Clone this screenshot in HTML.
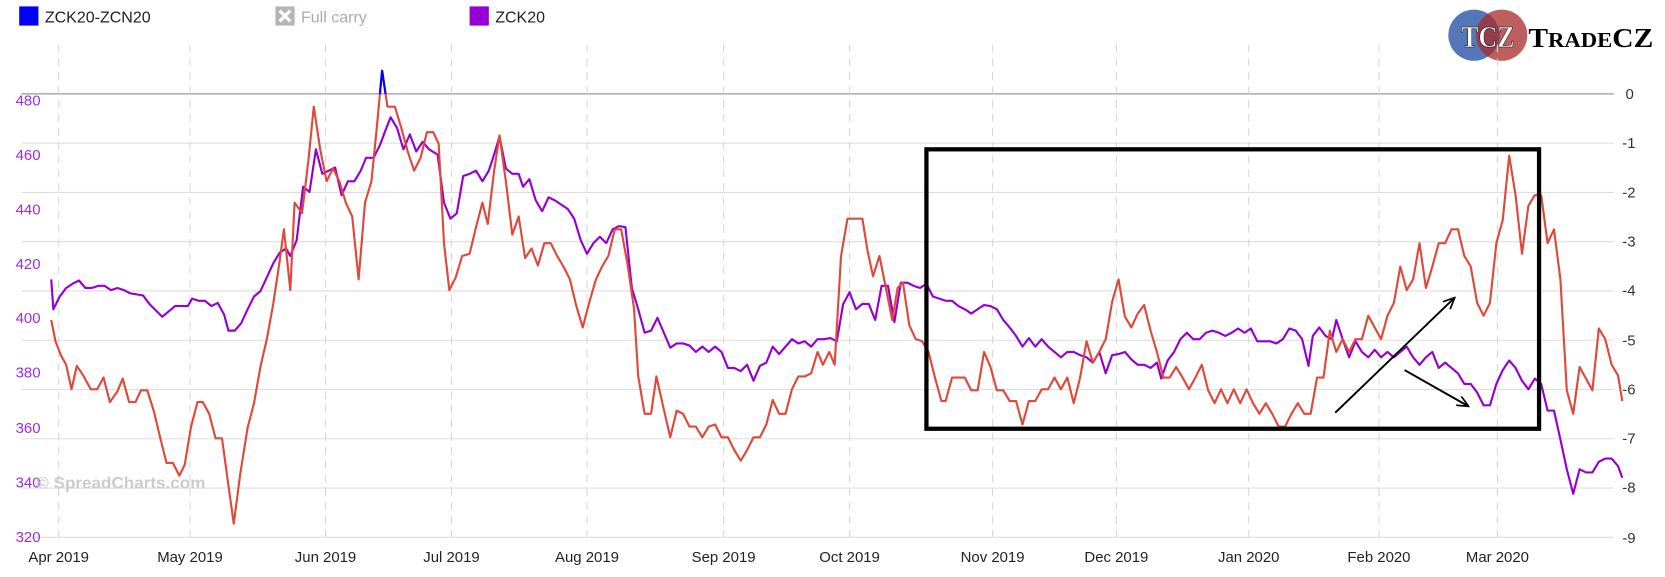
<!DOCTYPE html>
<html><head><meta charset="utf-8"><style>
html,body{margin:0;padding:0;background:#fff;}
svg{display:block;font-family:"Liberation Sans",sans-serif;}
</style></head><body>
<svg width="1665" height="577" viewBox="0 0 1560 541" preserveAspectRatio="none" xmlns="http://www.w3.org/2000/svg">
<defs>
<clipPath id="above"><rect x="0" y="0" width="1560" height="88"/></clipPath>
<marker id="ah" markerWidth="12" markerHeight="10" refX="11" refY="5" orient="auto" markerUnits="userSpaceOnUse"><path d="M0,0 L11,5 L0,10" fill="none" stroke="#000" stroke-width="1.6"/></marker>
</defs>
<rect width="1560" height="541" fill="#fff"/>
<!-- legend -->
<rect x="18" y="6" width="18" height="18" fill="#0000ff"/>
<text x="42" y="21" font-size="15" fill="#222">ZCK20-ZCN20</text>
<rect x="258" y="6" width="18" height="18" fill="#b0b8b8"/>
<path d="M262,10 L272,20 M272,10 L262,20" stroke="#fff" stroke-width="3"/>
<text x="282" y="21" font-size="15" fill="#aab">Full carry</text>
<rect x="440" y="6" width="18" height="18" fill="#9400d3"/>
<text x="464" y="21" font-size="15" fill="#222">ZCK20</text>
<!-- logo -->
<circle cx="1381" cy="33" r="24" fill="#2a55a8" fill-opacity="0.8"/>
<circle cx="1407" cy="33" r="24" fill="#a82a2a" fill-opacity="0.75"/>
<text x="1394" y="44" font-family="Liberation Serif,serif" font-weight="bold" font-size="29" fill="#fff" text-anchor="middle" stroke="#000" stroke-width="0.5" textLength="50" lengthAdjust="spacingAndGlyphs">TCZ</text>
<text x="1432" y="44" font-family="Liberation Serif,serif" font-weight="bold" font-size="26" fill="#000" textLength="117" lengthAdjust="spacingAndGlyphs">T<tspan font-size="20">RADE</tspan>CZ</text>
<!-- horizontal gridlines -->
<g stroke="#ddd" stroke-width="1">
<line x1="20" y1="134.2" x2="1512" y2="134.2"/><line x1="20" y1="180.4" x2="1512" y2="180.4"/>
<line x1="20" y1="226.6" x2="1512" y2="226.6"/><line x1="20" y1="272.8" x2="1512" y2="272.8"/>
<line x1="20" y1="319" x2="1512" y2="319"/><line x1="20" y1="365.2" x2="1512" y2="365.2"/>
<line x1="20" y1="411.4" x2="1512" y2="411.4"/><line x1="20" y1="457.6" x2="1512" y2="457.6"/>
<line x1="20" y1="503.8" x2="1512" y2="503.8"/>
</g>
<line x1="20" y1="88" x2="1512" y2="88" stroke="#999" stroke-width="1.2"/>
<!-- vertical dashed -->
<g stroke="#d6d6d6" stroke-width="1" stroke-dasharray="7,6">
<line x1="55" y1="42" x2="55" y2="504"/><line x1="178" y1="42" x2="178" y2="504"/>
<line x1="305" y1="42" x2="305" y2="504"/><line x1="423" y1="42" x2="423" y2="504"/>
<line x1="550" y1="42" x2="550" y2="504"/><line x1="678" y1="42" x2="678" y2="504"/>
<line x1="796" y1="42" x2="796" y2="504"/><line x1="930" y1="42" x2="930" y2="504"/>
<line x1="1046" y1="42" x2="1046" y2="504"/><line x1="1170" y1="42" x2="1170" y2="504"/>
<line x1="1292" y1="42" x2="1292" y2="504"/><line x1="1403" y1="42" x2="1403" y2="504"/>
</g>
<!-- left axis labels -->
<g font-size="14" fill="#9a2be0" text-anchor="end">
<text x="38" y="99">480</text><text x="38" y="150">460</text><text x="38" y="201">440</text>
<text x="38" y="252">420</text><text x="38" y="303">400</text><text x="38" y="354">380</text>
<text x="38" y="406">360</text><text x="38" y="457">340</text><text x="38" y="508">320</text>
</g>
<!-- right axis labels -->
<g font-size="14" fill="#333">
<text x="1523" y="93">0</text><text x="1520" y="139">-1</text><text x="1520" y="185">-2</text>
<text x="1520" y="231">-3</text><text x="1520" y="277">-4</text><text x="1520" y="324">-5</text>
<text x="1520" y="370">-6</text><text x="1520" y="416">-7</text><text x="1520" y="462">-8</text>
<text x="1520" y="509">-9</text>
</g>
<!-- x labels -->
<g font-size="14" fill="#222" text-anchor="middle">
<text x="55" y="527">Apr 2019</text><text x="178" y="527">May 2019</text><text x="305" y="527">Jun 2019</text>
<text x="423" y="527">Jul 2019</text><text x="550" y="527">Aug 2019</text><text x="678" y="527">Sep 2019</text>
<text x="796" y="527">Oct 2019</text><text x="930" y="527">Nov 2019</text><text x="1046" y="527">Dec 2019</text>
<text x="1170" y="527">Jan 2020</text><text x="1292" y="527">Feb 2020</text><text x="1403" y="527">Mar 2020</text>
</g>
<text x="34" y="458" font-size="16" font-weight="bold" fill="#ccc">© SpreadCharts.com</text>
<!-- purple series -->
<polyline fill="none" stroke="#9400d3" stroke-width="2" stroke-linejoin="round" points="48,262 50,290 56,278 62,270 68,266 74,263 80,270 86,270 92,268 98,268 104,272 110,270 116,272 122,275 128,276 134,277 140,285 146,291 152,297 158,292 164,287 170,287 176,287 180,280 186,282 192,282 198,287 204,284 210,295 214,310 220,310 226,303 232,290 238,278 244,273 250,260 256,247 262,237 268,233 272,240 278,225 284,175 290,180 296,140 302,163 308,160 314,157 320,183 326,170 332,170 338,160 343,148 350,148 356,136 362,120 366,110 372,120 378,140 384,126 390,142 396,133 402,140 410,145 416,190 422,205 428,200 434,165 440,163 446,160 452,170 458,160 462,148 468,128 474,158 480,163 486,163 490,175 496,168 502,188 508,198 514,185 520,188 526,192 532,196 538,205 544,225 550,238 556,228 562,222 568,228 574,215 580,212 586,213 592,270 598,290 604,312 610,310 616,298 622,312 628,326 634,322 640,322 646,324 652,330 658,325 664,330 670,325 676,330 682,345 688,345 694,348 700,342 706,357 712,343 718,340 724,325 730,332 736,325 742,318 748,322 754,320 760,325 766,318 772,318 778,317 784,320 790,285 796,274 802,290 808,285 814,285 820,300 826,268 832,268 838,302 844,265 850,265 856,268 862,270 868,266 874,278 880,280 886,282 892,282 898,287 904,290 910,294 916,290 922,286 928,287 934,290 940,300 946,307 952,315 958,325 964,317 970,325 976,318 982,325 988,330 994,335 1000,330 1006,330 1012,333 1018,335 1024,340 1030,330 1036,350 1042,333 1048,332 1054,330 1060,337 1066,342 1072,342 1078,345 1084,340 1088,355 1094,338 1100,330 1106,318 1112,312 1118,318 1124,318 1130,312 1136,310 1142,312 1148,315 1154,312 1160,308 1166,312 1172,308 1178,320 1184,320 1190,320 1196,322 1202,318 1208,308 1214,310 1220,318 1226,343 1230,315 1236,307 1242,315 1248,318 1252,300 1258,318 1264,335 1270,320 1276,330 1282,335 1288,328 1294,335 1300,330 1306,335 1312,330 1318,325 1324,335 1330,342 1336,335 1342,330 1348,345 1354,340 1360,345 1366,350 1372,360 1378,360 1384,368 1390,380 1396,380 1402,360 1408,347 1414,338 1420,345 1426,357 1432,365 1438,355 1444,360 1450,385 1456,385 1462,412 1468,440 1474,463 1480,440 1486,443 1492,443 1498,433 1504,430 1510,430 1516,437 1520,448"/>
<!-- red series -->
<polyline fill="none" stroke="#e0483a" stroke-width="2" stroke-linejoin="round" points="48,300 52,320 57,333 62,342 67,365 72,343 78,352 85,365 91,365 97,354 103,377 110,367 115,355 121,377 127,377 132,366 138,366 144,385 150,410 156,434 162,434 168,446 173,436 179,400 185,377 190,377 196,388 202,411 208,411 214,455 219,491 225,445 232,401 238,378 244,344 250,318 256,285 262,245 266,215 272,272 276,190 283,200 289,150 294,100 300,140 306,170 312,158 318,170 324,190 330,203 336,262 342,190 348,170 353,120 358,66 363,100 370,100 376,120 382,142 388,160 394,148 400,124 406,124 411,135 416,228 421,272 427,260 433,240 440,238 446,213 452,190 457,210 463,160 468,127 474,170 480,220 486,203 492,242 498,233 504,249 510,228 516,228 522,240 528,250 534,262 540,287 546,307 552,284 558,263 564,250 570,240 576,215 582,215 588,248 594,289 598,353 604,388 610,388 615,353 622,384 628,410 634,385 640,388 646,400 652,400 658,410 664,400 670,398 676,410 682,410 688,422 694,432 700,422 706,410 712,410 718,398 724,375 730,388 736,388 742,365 748,353 754,353 760,350 766,330 771,342 777,330 782,342 788,240 794,205 802,205 808,205 813,236 818,259 824,240 830,270 836,300 841,270 846,265 852,305 858,318 864,320 870,330 876,354 882,376 886,376 892,354 898,354 904,354 910,366 916,366 922,330 928,344 934,366 940,366 946,376 952,376 958,398 964,376 970,376 976,365 982,365 988,354 994,365 1000,354 1006,378 1012,354 1018,320 1024,340 1030,330 1036,318 1042,283 1048,262 1054,297 1060,307 1066,294 1072,286 1078,310 1084,330 1090,354 1096,354 1102,344 1108,354 1114,365 1120,354 1126,342 1132,366 1138,378 1144,365 1150,378 1156,365 1162,378 1168,365 1174,378 1180,388 1186,378 1192,388 1198,400 1204,400 1210,388 1216,378 1222,388 1228,388 1234,354 1240,354 1246,310 1252,330 1258,318 1264,330 1270,318 1276,318 1282,296 1288,307 1294,318 1300,296 1306,284 1312,250 1318,272 1324,262 1330,228 1336,270 1342,250 1348,228 1354,228 1360,215 1366,215 1372,240 1378,250 1384,284 1390,296 1396,284 1402,228 1408,206 1414,146 1420,183 1426,238 1432,193 1438,183 1444,183 1450,228 1456,215 1462,262 1468,366 1474,388 1480,344 1486,355 1492,366 1498,308 1504,318 1510,342 1516,352 1520,376"/>
<polyline clip-path="url(#above)" fill="none" stroke="#0000ff" stroke-width="2" points="348,170 353,120 358,66 363,100 370,100"/>
<!-- annotation box -->
<rect x="868" y="140" width="574" height="262" fill="none" stroke="#000" stroke-width="4"/>
<line x1="1251" y1="387" x2="1363" y2="279" stroke="#000" stroke-width="1.8" marker-end="url(#ah)"/>
<line x1="1316" y1="347" x2="1376" y2="381" stroke="#000" stroke-width="1.8" marker-end="url(#ah)"/>
</svg>
</body></html>
